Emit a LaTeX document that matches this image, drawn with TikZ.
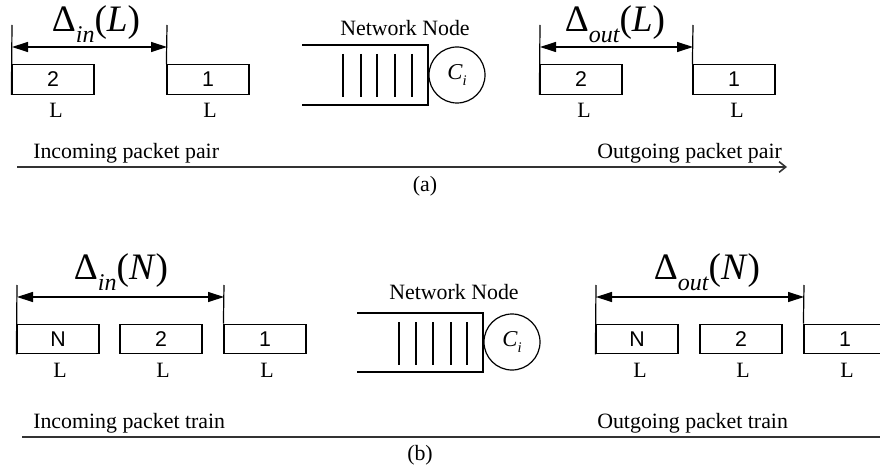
\documentclass[tikz,border=0pt]{standalone}
\usepackage{fontspec}
\setmainfont{Liberation Serif}
\newfontfamily\arialf{Liberation Sans}
\usetikzlibrary{arrows.meta}
\newcommand{\dexpr}[2]{{\fontsize{28}{28}\selectfont Δ\raisebox{-0.3em}{\fontsize{18}{18}\selectfont\itshape #1}(\textit{#2})}}
\newcommand{\cexpr}{{\fontsize{17}{17}\selectfont\textit{C}\raisebox{-0.25em}{\fontsize{11}{11}\selectfont\textit{i}}}}
\tikzset{
  pkt/.style={draw, line width=0.9pt, minimum width=61.5pt, minimum height=22pt, inner sep=0pt, font=\arialf\fontsize{16}{16}\selectfont},
  lab/.style={inner sep=0pt, font=\fontsize{16.4}{18}\selectfont},
  dlab/.style={inner sep=0pt},
  tick/.style={line width=0.9pt},
  dim/.style={line width=0.9pt, {Triangle[length=12pt,width=7.5pt]}-{Triangle[length=12pt,width=7.5pt]}},
  srv/.style={circle, draw, line width=0.9pt, minimum size=42pt, inner sep=0pt},
  base/.style={line width=1.2pt, draw=black!80}
}
\begin{document}
\begin{tikzpicture}[x=0.75pt,y=-0.75pt]
\useasboundingbox (0,0) rectangle (880,470);
% ---------- (a) ----------
\node[dlab] (dina) at (96,24) {\dexpr{in}{L}};
\node[pkt] (ia2) at (53,79.5) {2};
\node[pkt] (ia1) at (208,79.5) {1};
\node[lab] (ial2) at (56,110) {L};
\node[lab] (ial1) at (210,110) {L};
\coordinate (tia0) at (12,25);
\coordinate (tia1) at (167,25);
\draw[tick] (tia0) -- (ia2.south west);
\draw[tick] (tia1) -- (ia1.north west);
\coordinate (aia0) at (12,47);
\coordinate (aia1) at (167,47);
\draw[dim] (aia0) -- (aia1);

\node[lab] (nna) at (405,28) {Network Node};
\draw[line width=0.9pt] (302,45) -| (428,105) -- (302,105);
\foreach \x in {343,361,377,395,412} \draw[line width=0.9pt] (\x,54) -- (\x,97);
\node[srv] (sa) at (457,75) {\cexpr};

\node[dlab] (douta) at (615,24) {\dexpr{out}{L}};
\node[pkt] (oa2) at (581,79.5) {2};
\node[pkt] (oa1) at (734,79.5) {1};
\node[lab] (oal2) at (584,110) {L};
\node[lab] (oal1) at (737,110) {L};
\coordinate (toa0) at (540,25);
\coordinate (toa1) at (693,25);
\draw[tick] (toa0) -- (oa2.south west);
\draw[tick] (toa1) -- (oa1.north west);
\coordinate (aoa0) at (540,47);
\coordinate (aoa1) at (693,47);
\draw[dim] (aoa0) -- (aoa1);

\node[lab, anchor=west] (inca) at (33,153) {Incoming packet pair};
\node[lab, anchor=west] (outa) at (597,153) {Outgoing packet pair};
\coordinate (la0) at (17,167);
\coordinate (la1) at (787,167);
\draw[base, -{Straight Barb[length=5pt,width=8pt]}] (la0) -- (la1);
\node[lab] (capa) at (425,186) {(a)};

% ---------- (b) ----------
\node[dlab] (dinb) at (121,272) {\dexpr{in}{N}};
\node[pkt] (ibn) at (58,339) {N};
\node[pkt] (ib2) at (161,339) {2};
\node[pkt] (ib1) at (265,339) {1};
\node[lab] (ibln) at (60,370) {L};
\node[lab] (ibl2) at (163,370) {L};
\node[lab] (ibl1) at (267,370) {L};
\coordinate (tib0) at (17,285);
\coordinate (tib1) at (224,285);
\draw[tick] (tib0) -- (ibn.south west);
\draw[tick] (tib1) -- (ib1.north west);
\coordinate (aib0) at (17,297);
\coordinate (aib1) at (224,297);
\draw[dim] (aib0) -- (aib1);

\node[lab] (nnb) at (454,292) {Network Node};
\draw[line width=0.9pt] (357,313) -| (483,372) -- (357,372);
\foreach \x in {399,416,433,451,467} \draw[line width=0.9pt] (\x,322) -- (\x,365);
\node[srv] (sb) at (512,342) {\cexpr};

\node[dlab] (doutb) at (707,272) {\dexpr{out}{N}};
\node[pkt] (obn) at (637,339) {N};
\node[pkt] (ob2) at (741,339) {2};
\node[pkt] (ob1) at (845,339) {1};
\node[lab] (obln) at (640,370) {L};
\node[lab] (obl2) at (743,370) {L};
\node[lab] (obl1) at (847,370) {L};
\coordinate (tob0) at (596,285);
\coordinate (tob1) at (804,285);
\draw[tick] (tob0) -- (obn.south west);
\draw[tick] (tob1) -- (ob1.north west);
\coordinate (aob0) at (596,297);
\coordinate (aob1) at (804,297);
\draw[dim] (aob0) -- (aob1);

\node[lab, anchor=west] (incb) at (33,423) {Incoming packet train};
\node[lab, anchor=west] (outb) at (597,423) {Outgoing packet train};
\coordinate (lb0) at (22,437);
\coordinate (lb1) at (880,437);
\draw[base] (lb0) -- (lb1);
\node[lab] (capb) at (420,455) {(b)};
\end{tikzpicture}
\end{document}
